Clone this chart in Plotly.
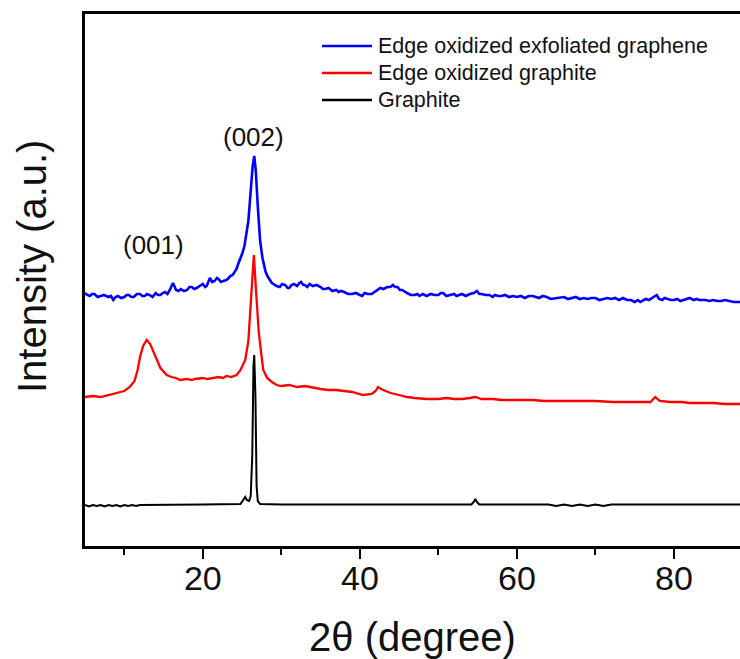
import plotly.graph_objects as go

# ---- data (intensity in arbitrary units) ----
graphene_x = [5, 5.3, 5.6, 5.9, 6.2, 6.6, 7, 7.4, 8, 8.3, 8.6, 8.9, 9.2, 9.6, 10, 10.3, 10.6, 10.9, 11.2, 11.6,
              12, 12.3, 12.6, 12.9, 13.2, 13.6, 14, 14.3, 14.6, 14.9, 15.2, 15.5, 15.8, 16.2, 16.6, 16.9, 17.2,
              17.6, 18, 18.3, 18.6, 18.9, 19.2, 19.6, 20, 20.3, 20.5, 20.9, 21.2, 21.5, 21.8, 22, 22.3, 22.6,
              23, 23.3, 23.5, 23.8, 24, 24.3, 24.5, 24.8, 25, 25.3, 25.5, 25.8, 26.1, 26.35,
              26.55, 26.75, 27.0, 27.3, 27.6, 27.8, 28, 28.3, 28.5, 28.8, 29, 29.4, 29.8, 30.1, 30.5, 30.8, 31,
              31.3, 31.6, 32, 32.3, 32.5, 32.8, 33, 33.3, 33.6, 34, 34.5, 35, 35.3, 35.6, 36, 36.5, 37, 37.3,
              37.6, 38, 38.5, 39, 39.5, 40, 40.3, 40.6, 41, 41.5, 42, 42.3, 42.6, 43, 43.5, 43.9, 44.2, 44.5,
              44.8, 45.1, 45.4, 46, 46.5, 47, 47.3, 47.6, 48, 48.5, 49, 49.5, 50, 50.3, 50.6, 51, 51.5, 52, 52.3,
              52.6, 53, 53.5, 54, 54.5, 54.9, 55.2, 55.5, 56, 56.5, 56.9, 57.2, 57.6, 58, 58.5, 59, 59.5, 60,
              60.5, 61, 61.5, 62, 62.4, 62.8, 63.3, 63.8, 64.3, 65, 65.5, 66, 66.5, 67, 67.5, 68, 68.5, 69, 69.5,
              70, 70.5, 71, 71.5, 72, 72.5, 73, 73.5, 74, 74.5, 75, 75.4, 75.7, 76.1, 76.4, 76.8, 77, 77.4, 77.8,
              78.1, 78.5, 78.8, 79.2, 79.6, 80, 80.4, 80.8, 81.2, 81.6, 82, 82.5, 82.9, 83.2, 83.6, 84, 84.5,
              85, 85.5, 86, 86.5, 87, 87.6, 88.4]
graphene_y = [253, 251, 250, 252, 252, 249, 250, 251, 249, 250, 246, 249, 250, 248, 249, 251, 251, 249, 249, 252,
              252, 250, 250, 252, 251, 249, 253, 251, 251, 253, 254, 252, 256, 263, 256, 255, 257,
              255, 256, 259, 259, 257, 258, 260, 262, 259, 260, 268, 264, 265, 268, 267, 264, 265,
              266, 268, 270, 271, 274, 277, 282, 287, 292, 300, 310, 325, 355, 380,
              390, 375, 340, 305, 288, 280, 274, 269, 266, 263, 262, 260, 259, 262, 261, 258, 258,
              261, 262, 260, 263, 264, 261, 261, 259, 262, 260, 261, 259, 257, 257, 258, 255, 256, 254,
              255, 254, 252, 252, 253, 251, 250, 253, 252, 252, 255, 257, 258, 257, 259, 259, 261, 259,
              259, 256, 256, 253, 251, 251, 252, 250, 252, 250, 252, 251, 251, 253, 253, 250, 251, 252, 250,
              251, 252, 250, 252, 253, 255, 252, 252, 251, 251, 249, 251, 250, 250, 251, 249, 250, 249,
              250, 248, 250, 250, 249, 248, 250, 249, 247, 248, 249, 249, 247, 248, 249, 247, 248, 247, 248,
              248, 246, 247, 248, 247, 248, 246, 248, 246, 246, 244, 246, 244, 246, 247, 246, 247, 249, 251,
              247, 246, 248, 247, 246, 246, 247, 245, 246, 247, 248, 246, 247, 246, 246, 246, 245,
              246, 245, 245, 246, 245, 244, 244]

oxidized_x = [5, 6, 7, 8, 9, 10, 10.7, 11.3, 11.7, 12.0, 12.4, 12.86, 13.3, 13.7, 14.1, 14.6, 15.4, 16, 16.6,
              17.1, 18, 18.6, 19, 20, 20.6, 21.3, 22, 22.6, 23, 23.6, 24.3, 24.8, 25.4, 25.8, 26.0, 26.25, 26.5,
              26.7, 26.9, 27.1, 27.4, 27.7, 28.2, 28.8, 29.4, 30, 31, 32, 33, 34.1, 35, 36, 37, 38, 39, 40.4,
              41.5, 42.0, 42.3, 42.7, 43.2, 43.9, 45, 46, 47, 48.5, 50, 51, 52, 53, 54, 54.7, 55.5, 57, 58,
              59.5, 61, 62, 63.5, 65, 66.5, 68, 70, 72.3, 74, 75, 76, 77, 77.6, 78.2, 79.5, 81, 82, 83.5, 85,
              86.5, 88.4]
oxidized_y = [149, 150, 149, 151, 153, 155, 159, 165, 176, 189, 200, 206, 202, 194, 186, 178, 171, 169, 168,
              166, 167, 166, 167, 168, 167, 168, 169, 168, 170, 169, 171, 176, 186, 205, 233, 265, 291,
              265, 235, 216, 195, 176, 168, 164, 161, 160, 161, 159, 160, 158, 157, 156, 156, 155, 154, 151,
              152, 155, 159, 157, 155, 153, 151, 149, 148, 147, 147, 148, 147, 147, 148, 149, 147, 147, 146,
              146, 146, 146, 145, 145, 145, 145, 145, 144, 144, 144, 144, 144, 149, 145, 144, 144, 143, 143, 143,
              142, 142]

graphite_x = [5, 5.5, 6, 6.5, 7, 7.5, 8, 8.5, 9, 9.5, 10, 10.5, 11, 11.5, 12, 16, 20, 24.8, 25.2, 25.4, 25.6,
              25.9, 26.1, 26.3, 26.45, 26.55, 26.7, 26.85, 27.0, 27.3, 30, 40, 50, 54.2, 54.5, 54.7, 54.9,
              55.2, 60, 64, 65, 66, 67, 68, 69, 70, 71, 72, 80, 88.4]
graphite_y = [41, 39.5, 41, 40, 41, 39.5, 41, 40, 41, 39.5, 41, 40, 41, 40, 41, 41, 41.5, 42, 46, 49, 46,
              45, 50, 91, 180, 191, 150, 60, 45, 42, 41.5, 41.5, 41.5, 41.5, 44, 47, 44,
              41.5, 41.5, 41.5, 40, 41.5, 40, 41.5, 40, 41.5, 40, 41.5, 41.5, 41.5]

series_names = ["Edge oxidized exfoliated graphene", "Edge oxidized graphite", "Graphite"]
series_colors = ["#0000FF", "#FF0000", "#000000"]
series_widths = [2.6, 2.3, 2]

peak_labels = ["(002)", "(001)"]
peak_label_x = [26.5, 13.7]
peak_label_y = [409, 301]

x_tick_vals = [20, 40, 60, 80]
x_tick_text = ["20", "40", "60", "80"]

FONT = "Arial, 'Liberation Sans', sans-serif"

W, H = 740, 659
ML, MR, MT, MB = 85, 0, 14, 113
PW, PH = W - ML - MR, H - MT - MB

fig = go.Figure()
for xs, ys, name, col, lw in zip([graphene_x, oxidized_x, graphite_x],
                                 [graphene_y, oxidized_y, graphite_y],
                                 series_names, series_colors, series_widths):
    fig.add_trace(go.Scatter(x=xs, y=ys, mode="lines", name=name,
                             line=dict(color=col, width=lw), showlegend=False))

# manual legend (paper coordinates)
def px_to_paper_x(px):
    return (px - ML) / PW

def px_to_paper_y(py):
    return (H - MB - py) / PH

legend_rows_py = [46, 73, 100]
for name, col, py in zip(series_names, series_colors, legend_rows_py):
    fig.add_shape(type="line", xref="paper", yref="paper",
                  x0=px_to_paper_x(322), x1=px_to_paper_x(372),
                  y0=px_to_paper_y(py), y1=px_to_paper_y(py),
                  line=dict(color=col, width=2.5))
    fig.add_annotation(xref="paper", yref="paper", x=px_to_paper_x(376), y=px_to_paper_y(py),
                       text=name, showarrow=False, xanchor="left", yanchor="middle",
                       font=dict(family=FONT, size=21.5, color="#111"))

for t, x, y in zip(peak_labels, peak_label_x, peak_label_y):
    fig.add_annotation(x=x, y=y, text=t, showarrow=False, xanchor="center", yanchor="middle",
                       font=dict(family=FONT, size=26, color="#111"))

# y-axis title as rotated annotation
fig.add_annotation(xref="paper", yref="paper", x=px_to_paper_x(32), y=px_to_paper_y(267),
                   text="Intensity (a.u.)", textangle=-90, showarrow=False,
                   xanchor="center", yanchor="middle",
                   font=dict(family=FONT, size=40, color="#111"))

fig.update_layout(
    width=W, height=H,
    margin=dict(l=ML, r=MR, t=MT, b=MB, pad=0),
    plot_bgcolor="white", paper_bgcolor="white",
    font=dict(family=FONT, color="#111"),
    xaxis=dict(range=[5, 88.4], showgrid=False, zeroline=False,
               showline=True, linecolor="black", linewidth=2.5, mirror=True,
               ticks="outside", ticklen=10, tickwidth=2, tickcolor="black",
               tickvals=x_tick_vals, ticktext=x_tick_text, ticklabelstandoff=-10,
               tickfont=dict(family=FONT, size=34, color="#111"),
               minor=dict(tickvals=[10, 30, 50, 70], ticks="outside", ticklen=6,
                          tickwidth=2, tickcolor="black"),
               title=dict(text="2θ (degree)", font=dict(family=FONT, size=40, color="#111"),
                          standoff=28)),
    yaxis=dict(range=[0, 532], showgrid=False, zeroline=False, showticklabels=False,
               ticks="", showline=True, linecolor="black", linewidth=2.5, mirror=False),
)

fig.write_html("out.html")
